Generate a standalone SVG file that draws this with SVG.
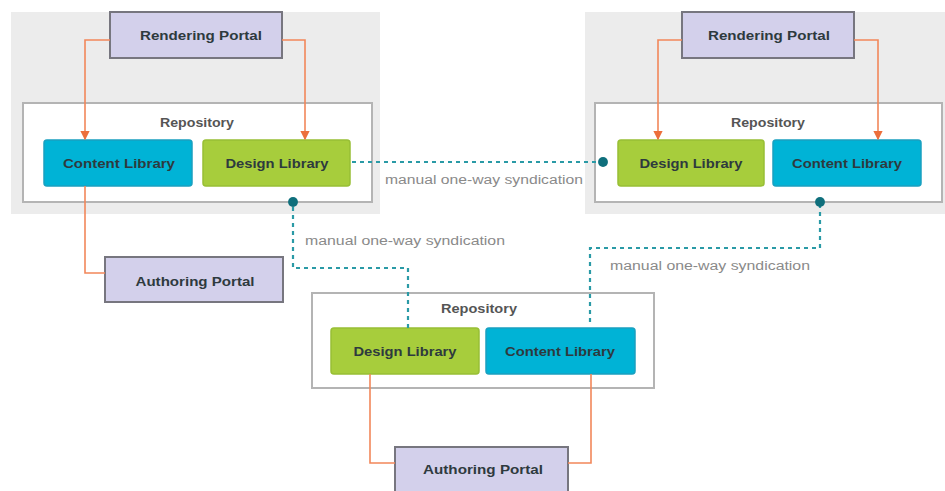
<svg xmlns="http://www.w3.org/2000/svg" width="945" height="491" viewBox="0 0 945 491">
<defs>
<style>
.panel{fill:#ececec}
.repo{fill:#ffffff;stroke:#b4b4b4;stroke-width:2}
.cyan{fill:#00b3d6;stroke:#1aa0c0;stroke-width:1.5}
.green{fill:#a7cd3c;stroke:#98bf34;stroke-width:1.5}
.portal{fill:#d3d0eb;stroke:#77767f;stroke-width:2}
.lbl{font-family:"Liberation Sans",Arial,sans-serif;font-size:13px;font-weight:bold;fill:#2e3a3e;text-anchor:middle;dominant-baseline:central}
.rlbl{font-family:"Liberation Sans",Arial,sans-serif;font-size:13px;font-weight:bold;fill:#555;text-anchor:middle;dominant-baseline:central}
.slbl{font-family:"Liberation Sans",Arial,sans-serif;font-size:12px;fill:#8a8a8a;text-anchor:middle;dominant-baseline:central}
.or{fill:none;stroke:#f2875a;stroke-width:1.6}
.tl{fill:none;stroke:#2a9aa6;stroke-width:2.2;stroke-dasharray:4 4}
</style>
<marker id="oa" viewBox="0 0 8 8" refX="7" refY="4" markerWidth="6" markerHeight="6" orient="auto"><path d="M0,0 L8,4 L0,8 z" fill="#ec6f3c"/></marker>
<marker id="td" viewBox="0 0 10 10" refX="5" refY="5" markerWidth="5" markerHeight="5"><circle cx="5" cy="5" r="4.5" fill="#0f6f7c"/></marker>
</defs>
<rect class="panel" x="11" y="12" width="369" height="202"/>
<rect class="panel" x="585" y="12" width="360" height="202"/>
<g id="repo-left"><rect class="repo" x="23" y="103" width="349" height="99"/><text class="rlbl" x="197" y="122" textLength="74" lengthAdjust="spacingAndGlyphs">Repository</text></g>
<g id="repo-right"><rect class="repo" x="595" y="103" width="347" height="99"/><text class="rlbl" x="768" y="122" textLength="74" lengthAdjust="spacingAndGlyphs">Repository</text></g>
<g id="repo-center"><rect class="repo" x="312" y="293" width="342" height="95"/><text class="rlbl" x="479" y="308" textLength="76" lengthAdjust="spacingAndGlyphs">Repository</text></g>
<g id="rp-left"><rect class="portal" x="110" y="12" width="172" height="46"/><text class="lbl" x="201" y="35" textLength="122" lengthAdjust="spacingAndGlyphs">Rendering Portal</text></g>
<g id="rp-right"><rect class="portal" x="682" y="12" width="172" height="46"/><text class="lbl" x="769" y="35" textLength="122" lengthAdjust="spacingAndGlyphs">Rendering Portal</text></g>
<g id="cl-left"><rect class="cyan" x="44" y="140" width="148" height="46" rx="3"/><text class="lbl" x="119" y="163" textLength="112" lengthAdjust="spacingAndGlyphs">Content Library</text></g>
<g id="dl-left"><rect class="green" x="203" y="140" width="147" height="46" rx="3"/><text class="lbl" x="277" y="163" textLength="103" lengthAdjust="spacingAndGlyphs">Design Library</text></g>
<g id="dl-right"><rect class="green" x="618" y="140" width="146" height="46" rx="3"/><text class="lbl" x="691" y="163" textLength="103" lengthAdjust="spacingAndGlyphs">Design Library</text></g>
<g id="cl-right"><rect class="cyan" x="773" y="140" width="148" height="46" rx="3"/><text class="lbl" x="847" y="163" textLength="110" lengthAdjust="spacingAndGlyphs">Content Library</text></g>
<g id="dl-center"><rect class="green" x="331" y="328" width="148" height="46" rx="3"/><text class="lbl" x="405" y="351" textLength="103" lengthAdjust="spacingAndGlyphs">Design Library</text></g>
<g id="cl-center"><rect class="cyan" x="486" y="328" width="149" height="46" rx="3"/><text class="lbl" x="560" y="351" textLength="110" lengthAdjust="spacingAndGlyphs">Content Library</text></g>
<g id="ap-left"><rect class="portal" x="105" y="257" width="178" height="45"/><text class="lbl" x="195" y="281" textLength="119" lengthAdjust="spacingAndGlyphs">Authoring Portal</text></g>
<g id="ap-center"><rect class="portal" x="395" y="447" width="173" height="46"/><text class="lbl" x="483" y="469" textLength="120" lengthAdjust="spacingAndGlyphs">Authoring Portal</text></g>
<g id="connectors">
<path class="or" d="M110,40 H85 V139" marker-end="url(#oa)"/>
<path class="or" d="M282,40 H305 V139" marker-end="url(#oa)"/>
<path class="or" d="M682,40 H658 V139" marker-end="url(#oa)"/>
<path class="or" d="M854,40 H878 V139" marker-end="url(#oa)"/>
<path class="or" d="M85,186 V273 H105"/>
<path class="or" d="M370,374 V463 H395"/>
<path class="or" d="M591,374 V463 H568"/>
<path class="tl" d="M352,162 H603" marker-end="url(#td)"/>
<path class="tl" d="M408,328 V268 H293 V202" marker-end="url(#td)"/>
<path class="tl" d="M590,322 V248 H820 V202" marker-end="url(#td)"/>
<text class="slbl" x="484" y="180" textLength="198" lengthAdjust="spacingAndGlyphs">manual one-way syndication</text>
<text class="slbl" x="405" y="241" textLength="200" lengthAdjust="spacingAndGlyphs">manual one-way syndication</text>
<text class="slbl" x="710" y="266" textLength="200" lengthAdjust="spacingAndGlyphs">manual one-way syndication</text>
</g>
</svg>
